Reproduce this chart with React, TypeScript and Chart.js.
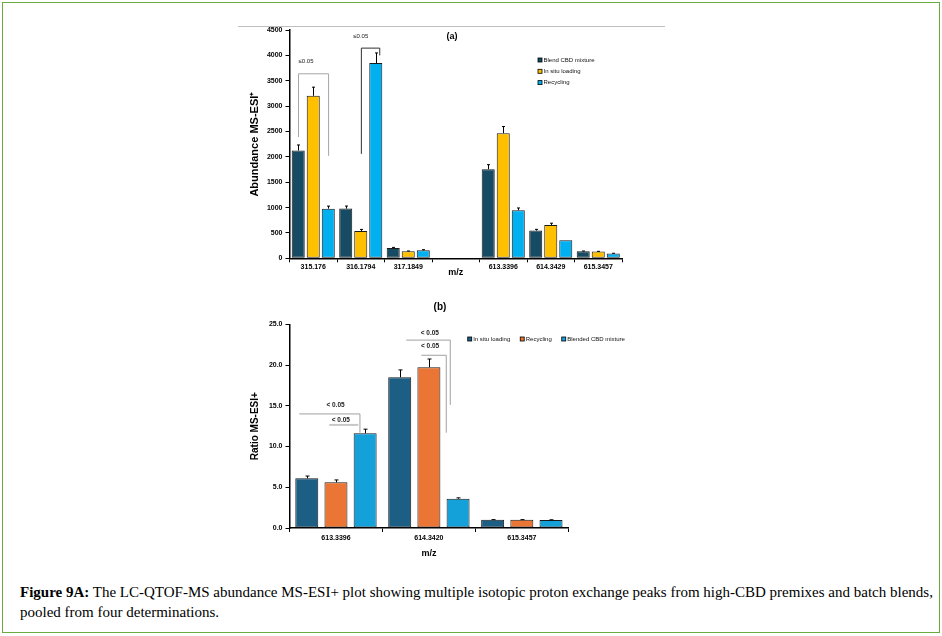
import React, { useEffect, useRef } from "react";
import { Chart, registerables } from "chart.js";

Chart.register(...registerables);

const SANS = "'Liberation Sans', Arial, sans-serif";

// ---- Panel (a): abundance of isotopic proton-exchange peaks ----
const mzLabelsA = ["315.176", "316.1794", "317.1849", "", "613.3396", "614.3429", "615.3457"];
const blendCbdA = [2124, 980, 203, null, 1756, 546, 138];
const blendCbdErrA = [110, 50, 12, 0, 90, 25, 6];
const inSituA = [3203, 539, 138, null, 2467, 657, 132];
const inSituErrA = [170, 30, 6, 0, 130, 35, 5];
const recyclingA = [979, 3848, 158, null, 947, 355, 93];
const recyclingErrA = [50, 200, 12, 0, 45, 0, 6];
const abundanceTicks = [0, 500, 1000, 1500, 2000, 2500, 3000, 3500, 4000, 4500];

// significance markers for (a), in category / abundance units
const significanceA = [
  { x1: -0.31, x2: 0.323, top: 3637, end1: 2390, end2: 2019, label: "≤0.05", lx: -0.31, ly: 3873, align: "left", color: "#a6a6a6", width: 1 },
  { x1: 1.013, x2: 1.4, top: 4143, end1: 2058, end2: 4000, label: "≤0.05", lx: 1.0, ly: 4373, align: "center", color: "#303030", width: 1 },
];

// ---- Panel (b): isotopic ratio ----
const mzLabelsB = ["613.3396", "614.3420", "615.3457"];
const inSituB = [6.1, 18.5, 1.0];
const inSituErrB = [0.28, 0.9, 0.03];
const recyclingB = [5.6, 19.74, 1.0];
const recyclingErrB = [0.3, 1.0, 0.03];
const blendedB = [11.63, 3.6, 0.98];
const blendedErrB = [0.5, 0.1, 0.03];
const ratioTicks = [0, 5, 10, 15, 20, 25];
const ratioTickLabels = ["0.0", "5.0", "10.0", "15.0", "20.0", "25.0"];

// significance markers for (b), in category / ratio units
const significanceB = [
  { x1: -0.395, x2: 0.258, top: 14.0, end1: null, end2: 11.7, label: "< 0.05", lx: -0.005, ly: 15.05, align: "center", color: "#a0a0a0", width: 1 },
  { x1: -0.072, x2: 0.24, top: 12.65, end1: null, end2: null, label: "< 0.05", lx: 0.052, ly: 13.18, align: "center", color: "#c8c8c8", width: 2 },
  { x1: -0.243 + 1, x2: 0.23 + 1, top: 23.06, end1: null, end2: 15.1, label: "< 0.05", lx: 1.01, ly: 23.92, align: "center", color: "#a0a0a0", width: 1 },
  { x1: -0.082 + 1, x2: 0.187 + 1, top: 21.2, end1: null, end2: 11.7, label: "< 0.05", lx: 1.013, ly: 22.36, align: "center", color: "#a0a0a0", width: 1 },
];

// Draws a whisker with a small top cap above each bar
const errorBarPlugin = {
  id: "errorBars",
  afterDatasetsDraw(chart: any, _args: any, opts: any) {
    const { ctx } = chart;
    const yScale = chart.scales.y;
    const cap = (opts && opts.cap) || 1.5;
    chart.data.datasets.forEach((ds: any, i: number) => {
      if (!ds.errors) return;
      const meta = chart.getDatasetMeta(i);
      meta.data.forEach((bar: any, j: number) => {
        const v = ds.data[j];
        const e = ds.errors[j];
        if (v == null || !e) return;
        const x = Math.round(bar.x) + 0.5;
        const yTop = yScale.getPixelForValue(v + e);
        ctx.save();
        ctx.strokeStyle = "#000";
        ctx.lineWidth = 1;
        ctx.beginPath();
        ctx.moveTo(x, bar.y);
        ctx.lineTo(x, yTop);
        ctx.moveTo(x - cap, yTop);
        ctx.lineTo(x + cap, yTop);
        ctx.stroke();
        ctx.restore();
      });
    });
  },
};

// Draws significance brackets with their p-value labels
const bracketPlugin = {
  id: "sigBrackets",
  afterDatasetsDraw(chart: any, _args: any, opts: any) {
    const items = (opts && opts.items) || [];
    const { ctx } = chart;
    const xs = chart.scales.x;
    const ys = chart.scales.y;
    items.forEach((b: any) => {
      const x1 = xs.getPixelForValue(b.x1);
      const x2 = xs.getPixelForValue(b.x2);
      const yt = ys.getPixelForValue(b.top);
      ctx.save();
      ctx.strokeStyle = b.color;
      ctx.lineWidth = b.width;
      ctx.beginPath();
      if (b.end1 != null) {
        ctx.moveTo(x1, ys.getPixelForValue(b.end1));
        ctx.lineTo(x1, yt);
      } else {
        ctx.moveTo(x1, yt);
      }
      ctx.lineTo(x2, yt);
      if (b.end2 != null) ctx.lineTo(x2, ys.getPixelForValue(b.end2));
      ctx.stroke();
      ctx.fillStyle = "#222";
      ctx.font = opts.font;
      ctx.textAlign = b.align;
      ctx.textBaseline = "middle";
      ctx.fillText(b.label, xs.getPixelForValue(b.lx), ys.getPixelForValue(b.ly));
      ctx.restore();
    });
  },
};

// Small square-marker legend placed inside the plot
const boxLegendPlugin = {
  id: "boxLegend",
  afterDraw(chart: any, _args: any, opts: any) {
    if (!opts || !opts.show) return;
    const { ctx } = chart;
    ctx.save();
    ctx.font = opts.font;
    ctx.textBaseline = "middle";
    let x = opts.x;
    let y = opts.y;
    const s = opts.box;
    chart.data.datasets.forEach((ds: any) => {
      ctx.fillStyle = ds.backgroundColor;
      ctx.fillRect(x, y - s / 2, s, s);
      ctx.strokeStyle = "#000";
      ctx.lineWidth = 0.8;
      ctx.strokeRect(x, y - s / 2, s, s);
      ctx.fillStyle = "#111";
      ctx.textAlign = "left";
      ctx.fillText(ds.label, x + s + 1.5, y);
      if (opts.vertical) y += opts.step;
      else x += s + 1.5 + ctx.measureText(ds.label).width + opts.step;
    });
    ctx.restore();
  },
};

function barSet(label: string, data: any[], errors: number[], color: string) {
  return {
    label,
    data,
    errors,
    backgroundColor: color,
    borderColor: "#1a1a1a",
    borderWidth: 1,
    borderSkipped: false,
  };
}

function AbundanceChart() {
  const ref = useRef<HTMLCanvasElement>(null);
  useEffect(() => {
    const chart = new Chart(ref.current as HTMLCanvasElement, {
      type: "bar",
      data: {
        labels: mzLabelsA,
        datasets: [
          barSet("Blend CBD mixture", blendCbdA, blendCbdErrA, "#174a63"),
          barSet("In situ loading", inSituA, inSituErrA, "#ffc000"),
          barSet("Recycling", recyclingA, recyclingErrA, "#00b0f0"),
        ] as any,
      },
      options: {
        responsive: false,
        animation: false,
        devicePixelRatio: 1,
        layout: { padding: { left: 10, top: 10, right: 46, bottom: 0 } },
        datasets: { bar: { categoryPercentage: 0.949, barPercentage: 0.867 } },
        plugins: {
          legend: { display: false },
          tooltip: { enabled: false },
          errorBars: { cap: 1.5 },
          sigBrackets: { items: significanceA, font: `6px ${SANS}` },
          boxLegend: { show: true, x: 300, y: 40, box: 4, step: 11.3, vertical: true, font: `6px ${SANS}` },
        } as any,
        scales: {
          x: {
            grid: { drawOnChartArea: false, offset: true, tickLength: 4, color: "#000" },
            border: { color: "#000", width: 1.5 },
            ticks: { color: "#000", font: { family: SANS, size: 7, weight: "bold" }, padding: 1, autoSkip: false, maxRotation: 0 },
            title: { display: true, text: "m/z", color: "#000", font: { family: SANS, size: 9, weight: "bold" }, padding: { top: 0, bottom: 3.6 } },
            afterFit: (s: any) => { s.height = 23.7; },
          },
          y: {
            min: 0,
            max: 4500,
            afterBuildTicks: (s: any) => { s.ticks = abundanceTicks.map((v) => ({ value: v })); },
            grid: { drawOnChartArea: false, tickLength: 4, color: "#000" },
            border: { color: "#000", width: 1.5 },
            ticks: { color: "#000", font: { family: SANS, size: 7, weight: "bold" }, padding: 3, callback: (_v: any, i: number) => String(abundanceTicks[i]) },
            title: { display: true, text: "Abundance MS-ESI⁺", color: "#000", font: { family: SANS, size: 11, weight: "bold" }, padding: { top: 0.4, bottom: 0 } },
            afterFit: (s: any) => { s.width = 41.5; },
          },
        } as any,
      },
      plugins: [errorBarPlugin, bracketPlugin, boxLegendPlugin],
    });
    return () => chart.destroy();
  }, []);
  return <canvas ref={ref} width={430} height={262} style={{ position: "absolute", left: 238, top: 20, width: 430, height: 262 }} />;
}

function RatioChart() {
  const ref = useRef<HTMLCanvasElement>(null);
  useEffect(() => {
    const chart = new Chart(ref.current as HTMLCanvasElement, {
      type: "bar",
      data: {
        labels: mzLabelsB,
        datasets: [
          barSet("In situ loading", inSituB, inSituErrB, "#1c5e84"),
          barSet("Recycling", recyclingB, recyclingErrB, "#ea7535"),
          barSet("Blended CBD mixture", blendedB, blendedErrB, "#14a0d8"),
        ] as any,
      },
      options: {
        responsive: false,
        animation: false,
        devicePixelRatio: 1,
        layout: { padding: { left: 10, top: 28.3, right: 99.7, bottom: 0 } },
        datasets: { bar: { categoryPercentage: 0.942, barPercentage: 0.788 } },
        plugins: {
          legend: { display: false },
          tooltip: { enabled: false },
          errorBars: { cap: 2 },
          sigBrackets: { items: significanceB, font: `bold 6.5px ${SANS}` },
          boxLegend: { show: true, x: 229.7, y: 43, box: 4, step: 10, vertical: false, font: `6px ${SANS}` },
        } as any,
        scales: {
          x: {
            grid: { drawOnChartArea: false, offset: true, tickLength: 4, color: "#000" },
            border: { color: "#000", width: 1.5 },
            ticks: { color: "#000", font: { family: SANS, size: 7, weight: "bold" }, padding: 2.1, autoSkip: false, maxRotation: 0 },
            title: { display: true, text: "m/z", color: "#000", font: { family: SANS, size: 9, weight: "bold" }, padding: { top: 0, bottom: 3.3 } },
            afterFit: (s: any) => { s.height = 34; },
          },
          y: {
            min: 0,
            max: 25,
            afterBuildTicks: (s: any) => { s.ticks = ratioTicks.map((v) => ({ value: v })); },
            grid: { drawOnChartArea: false, tickLength: 4, color: "#000" },
            border: { color: "#000", width: 1.5 },
            ticks: { color: "#000", font: { family: SANS, size: 7, weight: "bold" }, padding: 3, callback: (_v: any, i: number) => ratioTickLabels[i] },
            title: { display: true, text: "Ratio MS-ESI+", color: "#000", font: { family: SANS, size: 10, weight: "bold" }, padding: { top: 1, bottom: 0 } },
            afterFit: (s: any) => { s.width = 41.5; },
          },
        } as any,
      },
      plugins: [errorBarPlugin, bracketPlugin, boxLegendPlugin],
    });
    return () => chart.destroy();
  }, []);
  return <canvas ref={ref} width={430} height={266} style={{ position: "absolute", left: 238, top: 296, width: 430, height: 266 }} />;
}

export default function App() {
  return (
    <div style={{ position: "absolute", left: 0, top: 0, width: 942, height: 636, background: "#fff", overflow: "hidden" }}>
      <div style={{ position: "absolute", left: 2, top: 2, width: 938, height: 631, border: "1px solid #6aab3f", boxSizing: "border-box" }} />
      <div style={{ position: "absolute", left: 238, top: 26, width: 427, height: 1, background: "#bfbfbf" }} />
      <AbundanceChart />
      <div style={{ position: "absolute", left: 432, top: 31, width: 40, lineHeight: "12px", textAlign: "center", font: `bold 9px ${SANS}`, color: "#000" }}>(a)</div>
      <RatioChart />
      <div style={{ position: "absolute", left: 420, top: 301, width: 40, lineHeight: "12px", textAlign: "center", font: `bold 10px ${SANS}`, color: "#000" }}>(b)</div>
      <div style={{ position: "absolute", left: 20, top: 582, lineHeight: "20px", fontFamily: "'Liberation Serif', 'Times New Roman', serif", fontSize: 15, color: "#000", whiteSpace: "nowrap" }}>
        <b>Figure 9A:</b> The LC-QTOF-MS abundance MS-ESI+ plot showing multiple isotopic proton exchange peaks from high-CBD premixes and batch blends,
        <br />
        pooled from four determinations.
      </div>
    </div>
  );
}
